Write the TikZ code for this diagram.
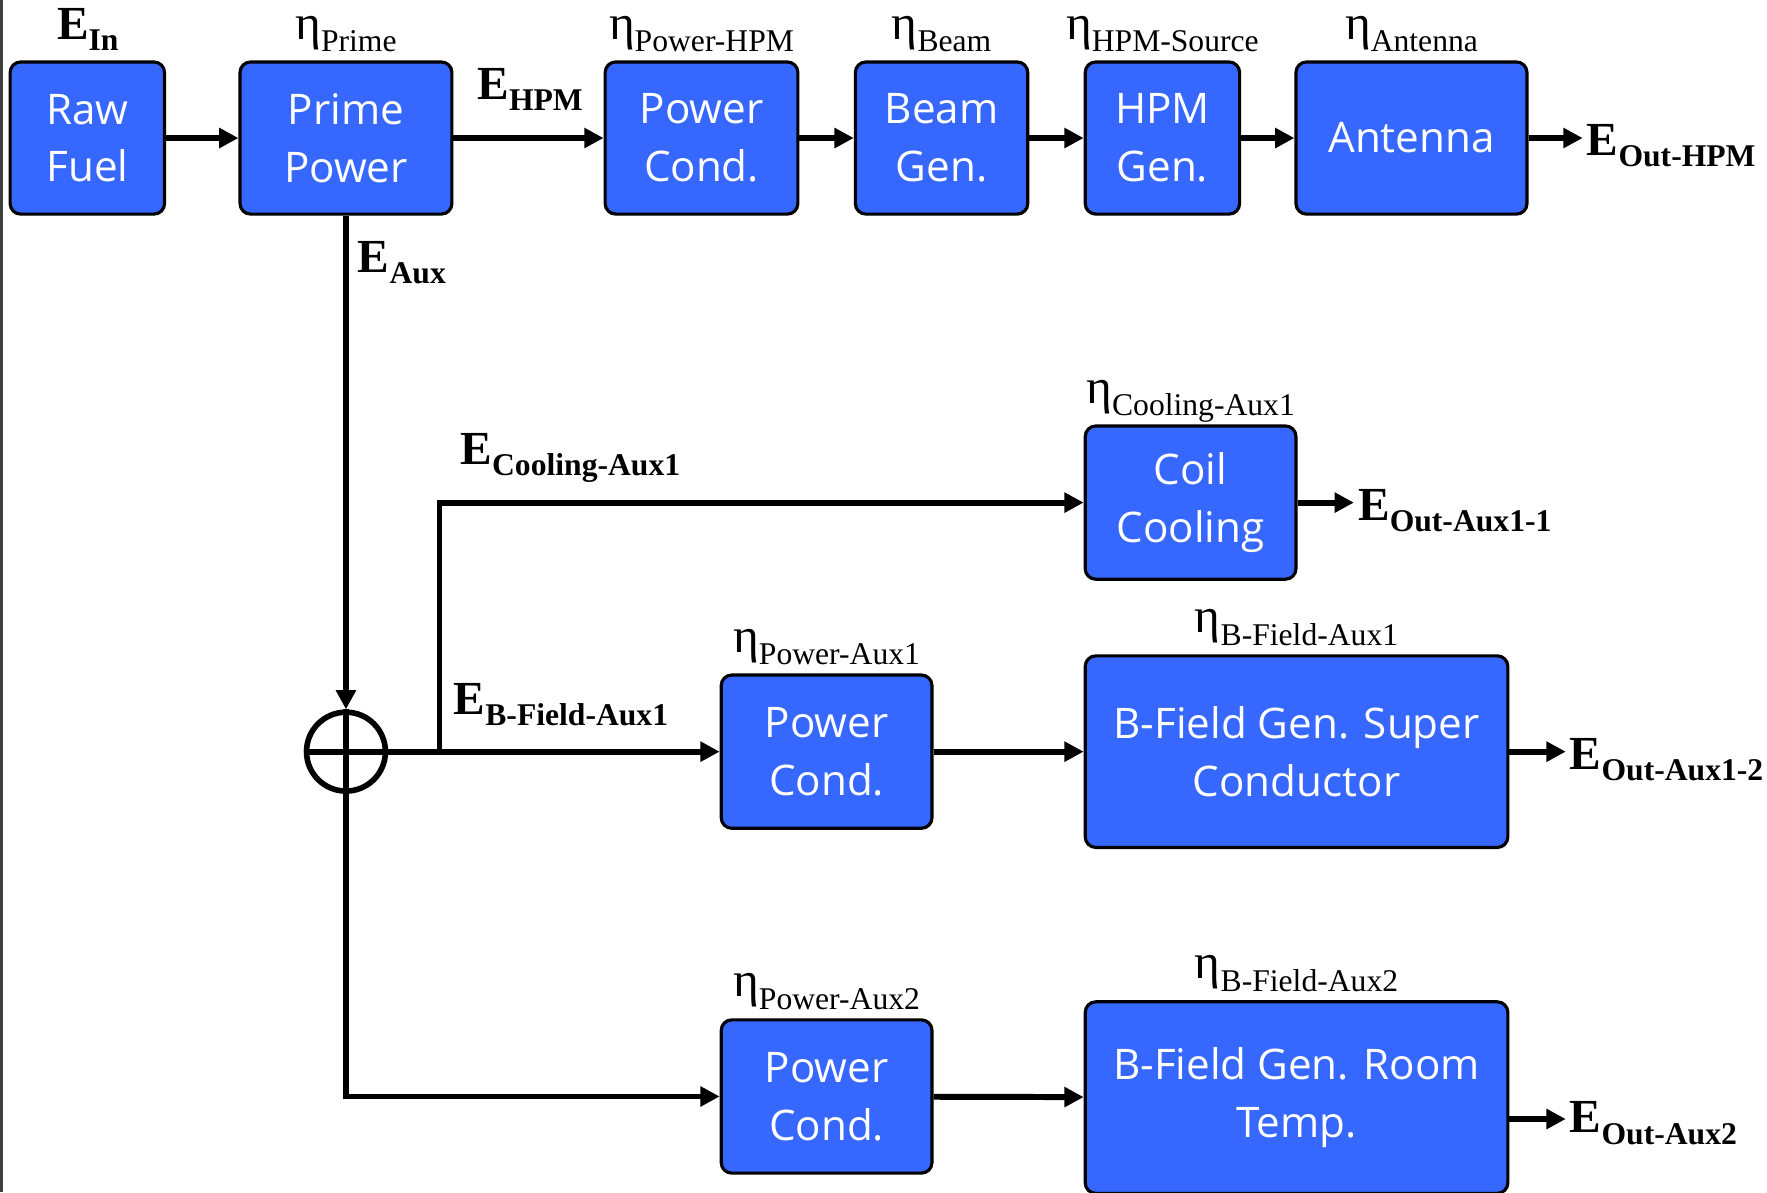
\documentclass[tikz,border=0pt]{standalone}
\usepackage{fontspec}
\setmainfont{Liberation Serif}
\newfontfamily\boxfont{Open Sans}
\usetikzlibrary{arrows.meta}
\definecolor{boxblue}{RGB}{54,103,255}
\newlength\pxu
\setlength\pxu{0.1127mm}
\newcommand{\Eflow}[1]{E\raisebox{-3.2pt}{\fontsize{9}{9}\selectfont #1}}
\newcommand{\etaeff}[1]{\raisebox{3.5pt}{\fontsize{14}{14}\selectfont η}#1}
\tikzset{
	blk/.style={draw=black, line width=0.9pt, fill=boxblue, rounded corners=3pt, text=white, align=center, inner sep=0pt, font=\boxfont\fontsize{12}{16.4}\selectfont},
	arr/.style={line width=1.7pt, -{Triangle[length=5.5pt,width=5.5pt]}},
	wire/.style={line width=1.7pt},
	sumnode/.style={circle, draw, line width=1.6pt, minimum size=70\pxu, inner sep=0pt},
	elab/.style={inner sep=0pt, font=\bfseries\fontsize{13.5}{14}\selectfont},
	effl/.style={inner sep=0pt, anchor=base, yshift=0.9mm, font=\fontsize{9}{10}\selectfont},
}

\begin{document}
\begin{tikzpicture}[x=0.1127mm, y=-0.1127mm]
		%%%%% START %%%%%
		\useasboundingbox (0,0) rectangle (1568,1058);
		\fill[black!75] (0,0) rectangle (3,1058);
		
		% HPM chain
		\node[blk, minimum width=137\pxu, minimum height=135\pxu] (raw) at (77.5,122.5) {Raw\\Fuel};
		\node[blk, minimum width=188\pxu, minimum height=135\pxu] (prime) at (307,122.5) {Prime\\Power};
		\node[blk, minimum width=171\pxu, minimum height=135\pxu] (pchpm) at (622.5,122.5) {Power\\Cond.};
		\node[blk, minimum width=153\pxu, minimum height=135\pxu] (beam) at (835.5,122.5) {Beam\\Gen.};
		\node[blk, minimum width=137\pxu, minimum height=135\pxu] (hpm) at (1031.5,122.5) {HPM\\Gen.};
		\node[blk, minimum width=205\pxu, minimum height=135\pxu] (ant) at (1252.5,122.5) {Antenna};
		
		\draw[arr] (raw) -- (prime);
		\draw[arr] (prime) -- (pchpm);
		\draw[arr] (pchpm) -- (beam);
		\draw[arr] (beam) -- (hpm);
		\draw[arr] (hpm) -- (ant);
		\draw[arr] (ant.east) -- ++(48,0) coordinate (ohpm);
		
		% aux branches
		\node[sumnode] (sum) at (307,667) {};
		\node[blk, minimum width=187\pxu, minimum height=136\pxu] (coil) at (1056.5,446) {Coil\\Cooling};
		\node[blk, minimum width=187\pxu, minimum height=136\pxu] (pc1) at (733.5,667) {Power\\Cond.};
		\node[blk, minimum width=375\pxu, minimum height=170\pxu] (bsc) at (1150.5,667) {B-Field Gen. Super\\Conductor};
		\node[blk, minimum width=187\pxu, minimum height=136\pxu] (pc2) at (733.5,973) {Power\\Cond.};
		\node[blk, minimum width=375\pxu, minimum height=170\pxu] (brt) at (1150.5,974) {B-Field Gen. Room\\Temp.};
		
		\draw[arr] (prime.south) -- (sum.north);
		\draw[wire] (sum.north) -- (sum.south) (sum.west) -- (sum.east);
		\draw[arr] (sum.east) -- (pc1.west);
		\coordinate (split) at (390,667);
		\draw[arr] (split) |- (coil.west);
		\draw[arr] (sum.south) |- (pc2.west);
		\draw[arr] (pc1) -- (bsc);
		\draw[arr] (pc2) -- (brt);
		\draw[arr] (coil.east) -- ++(50,0) coordinate (oaux11);
		\draw[arr] (bsc.east) -- ++(50,0) coordinate (oaux12);
		\draw[arr] (brt.east) ++(0,19) -- ++(50,0) coordinate (oaux2);
		
		% energy labels
		\node[elab, anchor=base west] (ein) at (50,35) {\Eflow{In}};
		\node[elab, anchor=base west] (ehpm) at (423,88) {\Eflow{HPM}};
		\node[elab, anchor=base west] (eaux) at (317,242) {\Eflow{Aux}};
		\node[elab, anchor=base west] (ecool) at (408,412) {\Eflow{Cooling-Aux1}};
		\node[elab, anchor=base west] (ebf) at (402,634) {\Eflow{B-Field-Aux1}};
		\node[elab, anchor=west, xshift=1pt, yshift=-2.2pt] (eohpm) at (ohpm) {\Eflow{Out-HPM}};
		\node[elab, anchor=west, xshift=1pt, yshift=-2.2pt] (eo11) at (oaux11) {\Eflow{Out-Aux1-1}};
		\node[elab, anchor=west, xshift=1pt, yshift=-2.2pt] (eo12) at (oaux12) {\Eflow{Out-Aux1-2}};
		\node[elab, anchor=west, xshift=1pt, yshift=-1.2pt] (eo2) at (oaux2) {\Eflow{Out-Aux2}};
		
		% efficiencies
		\node[effl] (nprime) at (prime.north) {\etaeff{Prime}};
		\node[effl] (npchpm) at (pchpm.north) {\etaeff{Power-HPM}};
		\node[effl] (nbeam) at (beam.north) {\etaeff{Beam}};
		\node[effl] (nhpm) at (hpm.north) {\etaeff{HPM-Source}};
		\node[effl] (nant) at (ant.north) {\etaeff{Antenna}};
		\node[effl] (ncoil) at (coil.north) {\etaeff{Cooling-Aux1}};
		\node[effl] (npc1) at (pc1.north) {\etaeff{Power-Aux1}};
		\node[effl] (nbsc) at (bsc.north) {\etaeff{B-Field-Aux1}};
		\node[effl] (npc2) at (pc2.north) {\etaeff{Power-Aux2}};
		\node[effl] (nbrt) at (brt.north) {\etaeff{B-Field-Aux2}};
		
		%%%%% END %%%%%
	\end{tikzpicture}
\end{document}
